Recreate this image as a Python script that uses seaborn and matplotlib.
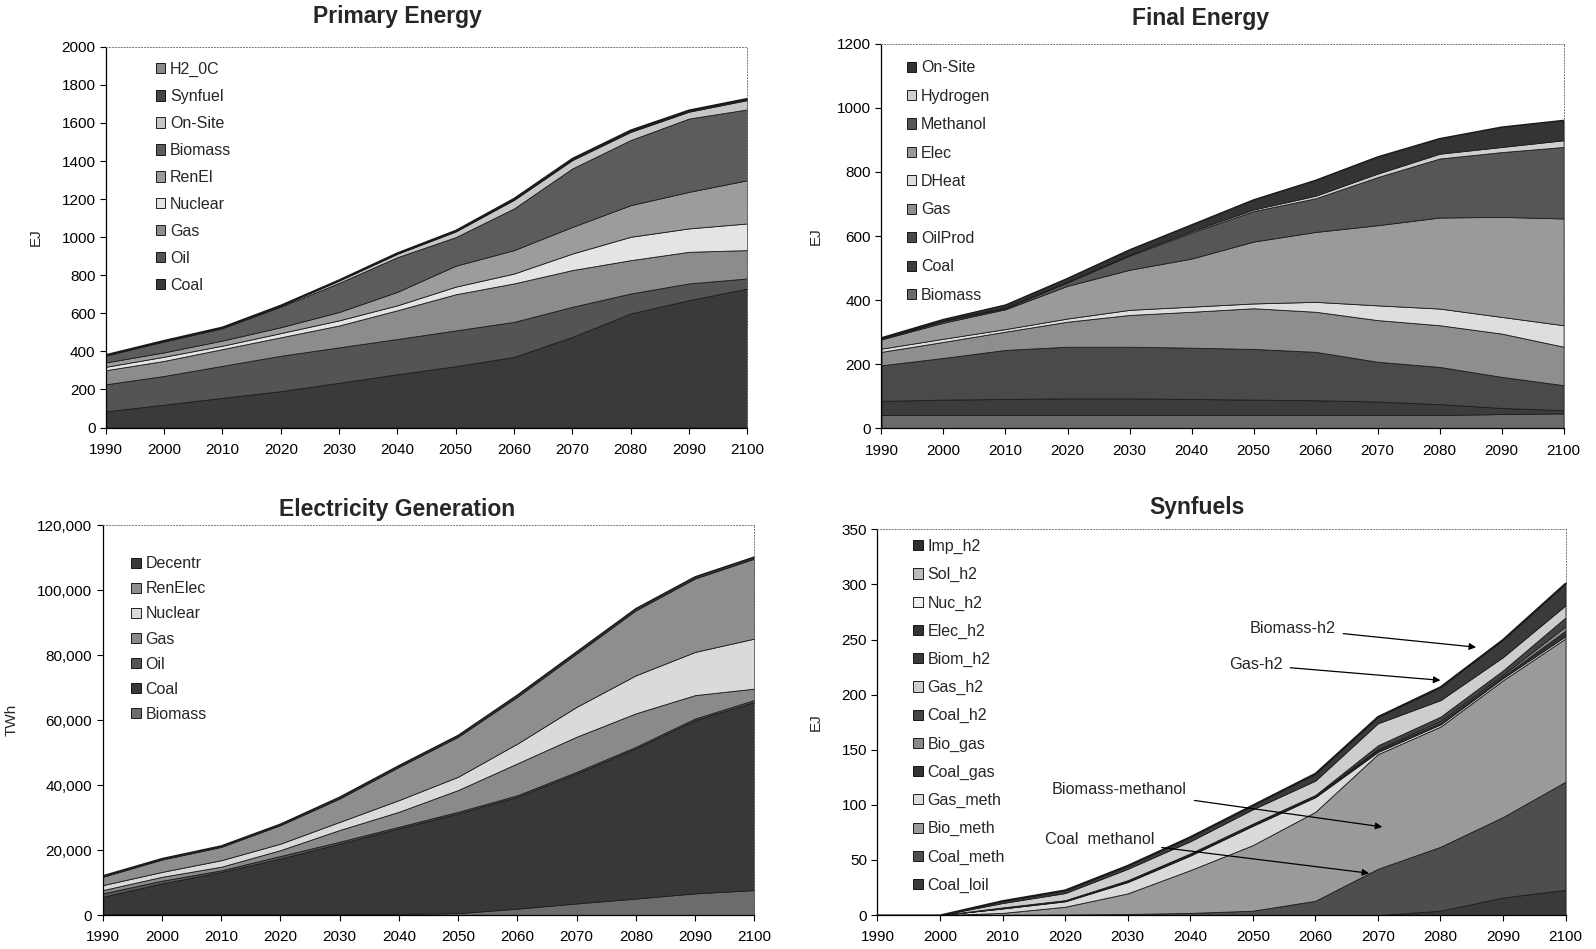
import matplotlib
matplotlib.use("Agg")
import matplotlib.pyplot as plt
from matplotlib.patches import Patch
from matplotlib.ticker import FuncFormatter, MultipleLocator
import numpy as np
import pandas as pd
import seaborn as sns

years = [1990, 2000, 2010, 2020, 2030, 2040, 2050, 2060, 2070, 2080, 2090, 2100]

# ---------------- Primary Energy (EJ), stacked bottom -> top ----------------
pe_labels = ["Coal", "Oil", "Gas", "Nuclear", "RenEl", "Biomass", "On-Site", "Synfuel", "H2_0C"]
pe_coal    = [85, 120, 156, 191, 235, 280, 322, 371, 476, 599, 669, 730]
pe_oil     = [142, 151, 168, 186, 186, 185, 188, 184, 158, 105, 88, 53]
pe_gas     = [74, 79, 88, 97, 115, 151, 190, 202, 193, 175, 166, 149]
pe_nuclear = [18, 22, 18, 22, 27, 26, 40, 52, 87, 123, 123, 140]
pe_renel   = [23, 23, 27, 31, 44, 71, 110, 123, 140, 166, 192, 227]
pe_biomass = [36, 57, 65, 108, 153, 182, 150, 219, 307, 342, 385, 372]
pe_onsite  = [3, 3, 3, 5, 12, 18, 30, 45, 44, 43, 36, 49]
pe_synfuel = [0.5, 1, 1, 1, 2, 2, 3, 4, 5, 5, 5, 5]
pe_h2      = [0.5, 1, 1, 1, 1, 2, 2, 3, 3, 4, 3, 3]
pe_colors  = ["#3a3a3a", "#545454", "#8c8c8c", "#e4e4e4", "#9c9c9c", "#5c5c5c", "#c6c6c6", "#444444", "#8a8a8a"]

# ---------------- Final Energy (EJ) ----------------
fe_labels = ["Biomass", "Coal", "OilProd", "Gas", "DHeat", "Elec", "Methanol", "Hydrogen", "On-Site"]
fe_biomass  = [42, 42, 42, 42, 42, 42, 42, 42, 42, 42, 45, 47]
fe_coal     = [44, 48, 50, 52, 52, 50, 48, 46, 42, 34, 19, 10]
fe_oilprod  = [111, 130, 153, 161, 161, 160, 158, 151, 124, 116, 97, 78]
fe_gas      = [42, 50, 57, 78, 99, 112, 127, 125, 130, 130, 135, 120]
fe_dheat    = [10, 10, 8, 10, 16, 16, 15, 31, 46, 52, 52, 67]
fe_elec     = [29, 50, 62, 102, 125, 150, 193, 218, 250, 284, 312, 333]
fe_methanol = [2, 5, 3, 11, 44, 81, 95, 105, 150, 184, 202, 223]
fe_hydrogen = [1, 2, 2, 2, 3, 4, 5, 8, 11, 15, 16, 21]
fe_onsite   = [2, 3, 8, 10, 15, 20, 30, 48, 52, 47, 62, 62]
fe_colors   = ["#6a6a6a", "#3c3c3c", "#4a4a4a", "#8e8e8e", "#dedede", "#9a9a9a", "#565656", "#cfcfcf", "#343434"]

# ---------------- Electricity Generation (TWh) ----------------
el_labels = ["Biomass", "Coal", "Oil", "Gas", "Nuclear", "RenElec", "Decentr"]
el_biomass = [300, 300, 300, 300, 300, 400, 600, 2000, 3600, 5100, 6700, 7700]
el_coal    = [5340, 9440, 13000, 17100, 21700, 26300, 30700, 34400, 40000, 46200, 53300, 57900]
el_oil     = [1060, 860, 500, 800, 600, 500, 500, 500, 500, 500, 500, 600]
el_gas     = [1000, 1200, 1100, 1800, 3600, 4600, 6700, 9800, 10800, 10300, 7200, 3500]
el_nuclear = [1530, 1500, 2000, 2000, 2500, 3600, 4100, 6100, 9200, 11700, 13300, 15400]
el_renelec = [2570, 3800, 4100, 5700, 7200, 10200, 12300, 14400, 16400, 20000, 22600, 24600]
el_decentr = [300, 300, 300, 300, 400, 400, 400, 500, 500, 500, 500, 500]
el_colors  = ["#6c6c6c", "#383838", "#555555", "#8a8a8a", "#dadada", "#8e8e8e", "#3a3a3a"]

# ---------------- Synfuels (EJ) ----------------
sf_labels = ["Coal_loil", "Coal_meth", "Bio_meth", "Gas_meth", "Coal_gas", "Bio_gas",
             "Coal_h2", "Gas_h2", "Biom_h2", "Elec_h2", "Nuc_h2", "Sol_h2", "Imp_h2"]
sf_coal_loil = [0, 0, 0, 0, 0, 0, 0, 0, 0, 4, 16, 23]
sf_coal_meth = [0, 0, 0.3, 0.6, 1, 2, 4, 13, 42, 58, 73, 98]
sf_bio_meth  = [0, 0, 1.7, 7, 18.7, 38.8, 59.5, 80.7, 104, 109, 124, 130]
sf_gas_meth  = [0, 0, 4, 4.9, 10.3, 13.2, 17.5, 13.3, 2, 2, 2, 2]
sf_coal_gas  = [0, 0, 0.3, 0.5, 0.7, 1, 1, 1, 1.5, 1.5, 1.5, 5]
sf_bio_gas   = [0, 0, 0.3, 0.3, 0.3, 0.5, 0.5, 0.5, 1, 1.5, 1.5, 4]
sf_coal_h2   = [0, 0, 0.4, 0.3, 0.7, 0.5, 0.5, 0.5, 3.5, 4, 4, 8]
sf_gas_h2    = [0, 0, 4, 6.4, 10.3, 11, 13, 13, 20, 15, 12, 11]
sf_biom_h2   = [0, 0, 2, 2.7, 3, 4, 3.8, 6.5, 6, 12, 16, 20]
sf_elec_h2   = [0, 0, 0, 0, 0, 0, 0, 0, 0, 0, 0, 0]
sf_nuc_h2    = [0, 0, 0, 0, 0, 0, 0, 0, 0, 0, 0, 0]
sf_sol_h2    = [0, 0, 0, 0, 0, 0, 0, 0, 0, 0, 0, 0]
sf_imp_h2    = [0, 0, 0, 0, 0, 0, 0, 0, 0, 0, 0, 0]
sf_colors = ["#3a3a3a", "#4e4e4e", "#9a9a9a", "#dadada", "#333333", "#8a8a8a",
             "#444444", "#cdcdcd", "#3a3a3a", "#333333", "#eeeeee", "#bbbbbb", "#2e2e2e"]

# annotation texts on synfuels chart: (label, text_x, text_y, arrow_x, arrow_y)
sf_notes = [("Biomass-h2", 2056.4, 260, 2085.7, 243),
            ("Gas-h2", 2050.5, 227, 2080, 213),
            ("Biomass-methanol", 2028.7, 113.6, 2070.7, 80),
            ("Coal  methanol", 2025.5, 68.3, 2068.6, 38)]

sns.set_theme(style="white")
plt.rcParams["font.family"] = ["Liberation Sans", "DejaVu Sans"]

fig = plt.figure(figsize=(15.96, 9.49), dpi=100)
fig.patch.set_facecolor("white")


def panel(rect, series, labels, colors, ymax, ystep, title, ylabel, title_x, title_y,
          leg_anchor, leg_spacing, ylabel_x, fmt=None):
    ax = fig.add_axes(rect)
    df = pd.DataFrame(dict(zip(labels, series)), index=years)
    ax.stackplot(df.index, *[df[c].values for c in labels], colors=colors,
                 edgecolor="#1c1c1c", linewidth=0.6)
    total = df.sum(axis=1)
    sns.lineplot(x=df.index, y=total.values, ax=ax, color="#1a1a1a", lw=1.0, legend=False)
    ax.set_xlim(1990, 2100)
    ax.set_ylim(0, ymax)
    ax.xaxis.set_major_locator(MultipleLocator(10))
    ax.yaxis.set_major_locator(MultipleLocator(ystep))
    if fmt:
        ax.yaxis.set_major_formatter(FuncFormatter(fmt))
    ax.tick_params(axis="both", direction="out", length=4, width=0.8, labelsize=11,
                   colors="black", bottom=True, left=True)
    ax.tick_params(axis="x", pad=7)
    for s in ["left", "bottom"]:
        ax.spines[s].set_color("black")
        ax.spines[s].set_linewidth(0.9)
    for s in ["top", "right"]:
        ax.spines[s].set_color("#777777")
        ax.spines[s].set_linewidth(0.7)
        ax.spines[s].set_linestyle((0, (1, 2)))
    ax.set_xlabel("")
    ax.set_ylabel(ylabel, fontsize=11)
    ax.yaxis.set_label_coords(ylabel_x, 0.5)
    ax.text(title_x, title_y, title, transform=ax.transAxes, ha="center", va="center",
            fontsize=16.5, fontweight="bold")
    handles = [Patch(facecolor=c, edgecolor="black", linewidth=0.6) for c in colors][::-1]
    ax.legend(handles, labels[::-1], loc="upper left", bbox_to_anchor=leg_anchor,
              frameon=False, fontsize=11.5, handlelength=0.6, handleheight=0.6,
              handletextpad=0.3, labelspacing=leg_spacing, borderpad=0, borderaxespad=0)
    return ax


panel([0.0663, 0.5495, 0.4019, 0.4012],
      [pe_coal, pe_oil, pe_gas, pe_nuclear, pe_renel, pe_biomass, pe_onsite, pe_synfuel, pe_h2],
      pe_labels, pe_colors, 2000, 200, "Primary Energy", "EJ", 0.454, 1.080,
      (0.0777, 0.960), 0.75, -0.098)

panel([0.5523, 0.5485, 0.4274, 0.4054],
      [fe_biomass, fe_coal, fe_oilprod, fe_gas, fe_dheat, fe_elec, fe_methanol, fe_hydrogen, fe_onsite],
      fe_labels, fe_colors, 1200, 200, "Final Energy", "EJ", 0.4685, 1.066,
      (0.037, 0.957), 0.84, -0.0865)

panel([0.0644, 0.0357, 0.4082, 0.4109],
      [el_biomass, el_coal, el_oil, el_gas, el_nuclear, el_renelec, el_decentr],
      el_labels, el_colors, 120000, 20000, "Electricity Generation", "TWh", 0.4516, 1.041,
      (0.0437, 0.920), 0.63, -0.1297, fmt=lambda v, p: f"{v:,.0f}")

ax4 = panel([0.5498, 0.0357, 0.4311, 0.4066],
            [sf_coal_loil, sf_coal_meth, sf_bio_meth, sf_gas_meth, sf_coal_gas, sf_bio_gas,
             sf_coal_h2, sf_gas_h2, sf_biom_h2, sf_elec_h2, sf_nuc_h2, sf_sol_h2, sf_imp_h2],
            sf_labels, sf_colors, 350, 50, "Synfuels", "EJ", 0.4645, 1.057,
            (0.0518, 0.975), 0.82, -0.0798)

for txt, tx, ty, axx, ayy in sf_notes:
    ax4.annotate(txt, xy=(axx, ayy), xytext=(tx, ty), fontsize=11.7, ha="center", va="center",
                 arrowprops=dict(arrowstyle="-|>", color="black", lw=0.9,
                                 mutation_scale=10, shrinkA=3, shrinkB=0))

fig.savefig("out.png", dpi=100, facecolor="white")
